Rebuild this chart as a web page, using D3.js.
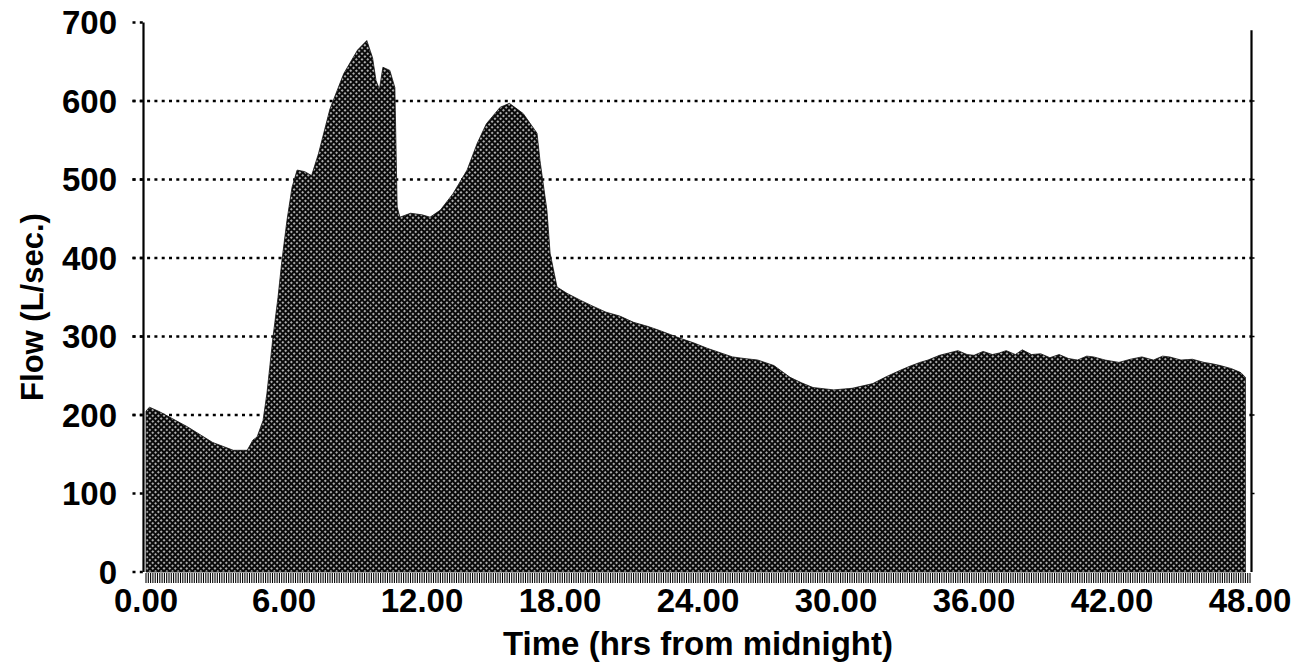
<!DOCTYPE html>
<html>
<head>
<meta charset="utf-8">
<script src="https://cdn.jsdelivr.net/npm/d3@7"></script>
<style>
  html, body { margin: 0; padding: 0; background: #fff; }
  svg { display: block; }
  text { font-family: "Liberation Sans", Arial, sans-serif; font-weight: bold; fill: #000; }
</style>
</head>
<body>
<svg id="chart" width="1302" height="665"></svg>
<script>
// ---- data ----
const hours = [0, 0.15, 0.6, 1.8, 2.9, 3.8, 4.4, 4.65, 4.83, 5.09, 5.26, 5.52, 5.74, 5.91, 6.13, 6.35, 6.57, 6.9, 7.2, 7.5, 8.0, 8.6, 9.2, 9.6, 9.85, 10.0, 10.15, 10.3, 10.6, 10.82, 10.92, 11.04, 11.5, 12.0, 12.35, 12.8, 13.35, 13.96, 14.4, 14.8, 15.4, 15.8, 16.4, 17.0, 17.13, 17.43, 17.57, 17.87, 18.3, 18.9, 19.4, 20.0, 20.6, 21.2, 21.8, 22.3, 23.2, 23.8, 24.4, 25.0, 25.5, 26.0, 26.6, 27.3, 28.0, 28.5, 29.0, 29.9, 30.7, 31.6, 32.2, 32.8, 33.2, 33.65, 34.0, 34.5, 34.9, 35.3, 35.7, 36.0, 36.4, 36.8, 37.1, 37.4, 37.8, 38.1, 38.5, 38.9, 39.3, 39.7, 40.1, 40.5, 40.9, 41.2, 41.7, 42.3, 42.8, 43.3, 43.8, 44.2, 44.5, 45.0, 45.5, 46.0, 46.4, 46.7, 47.2, 47.6, 47.8];
const flow  = [205, 210, 204, 185, 165, 155, 155, 168, 172, 193, 228, 299, 350, 397, 448, 490, 512, 510, 505, 533, 590, 635, 665, 677, 655, 626, 615, 643, 639, 617, 465, 452, 457, 455, 452, 461, 482, 512, 546, 571, 592, 597, 584, 559, 524, 461, 406, 363, 355, 346, 339, 331, 326, 318, 313, 308, 298, 292, 285, 279, 274, 272, 270, 263, 248, 241, 235, 232, 234, 240, 249, 257, 262, 267, 270, 276, 279, 282, 277, 276, 281, 277, 279, 282, 277, 283, 277, 278, 273, 277, 272, 270, 275, 274, 270, 267, 271, 274, 270, 275, 274, 270, 271, 267, 265, 263, 259, 254, 248];

const xTickValues = [0, 6, 12, 18, 24, 30, 36, 42, 48];
const xTickLabels = ["0.00", "6.00", "12.00", "18.00", "24.00", "30.00", "36.00", "42.00", "48.00"];
const yTickValues = [0, 100, 200, 300, 400, 500, 600, 700];
const yTickLabels = ["0", "100", "200", "300", "400", "500", "600", "700"];
const gridValues = [200, 300, 400, 500, 600];
const xLabel = "Time (hrs from midnight)";
const yLabel = "Flow (L/sec.)";

// ---- drawing ----
const svg = d3.select("#chart");
const x = d3.scaleLinear().domain([0, 48]).range([146, 1250]);
const y = d3.scaleLinear().domain([0, 700]).range([572, 22.5]);

// halftone pattern
const defs = svg.append("defs");
const pat = defs.append("pattern")
  .attr("id", "halftone")
  .attr("patternUnits", "userSpaceOnUse")
  .attr("width", 4).attr("height", 4)
  .attr("patternTransform", "rotate(45)");
pat.append("rect").attr("width", 4).attr("height", 4).attr("fill", "#0a0a0a");
pat.append("circle").attr("cx", 2).attr("cy", 2).attr("r", 0.95).attr("fill", "#f4f4f4");

const axisLeftX = x(0) - 2.5;
const axisRightX = x(48) + 1.5;

// gridlines (dotted)
svg.append("g").selectAll("line").data(gridValues).join("line")
  .attr("x1", axisLeftX - 11).attr("x2", axisRightX)
  .attr("y1", d => y(d)).attr("y2", d => y(d))
  .attr("stroke", "#000").attr("stroke-width", 2.4)
  .attr("stroke-dasharray", "3,4.3");

// short left ticks for every y tick
svg.append("g").selectAll("line").data(yTickValues).join("line")
  .attr("x1", axisLeftX - 11).attr("x2", axisLeftX)
  .attr("y1", d => y(d)).attr("y2", d => y(d))
  .attr("stroke", "#000").attr("stroke-width", 2.4)
  .attr("stroke-dasharray", "3,4.3");

// area
const area = d3.area()
  .x((d, i) => x(hours[i]))
  .y0(y(0))
  .y1(d => y(d))
  .curve(d3.curveLinear);
svg.append("path")
  .datum(flow)
  .attr("d", area)
  .attr("fill", "url(#halftone)")
  .attr("stroke", "#111")
  .attr("stroke-width", 0.8);

// axis lines
svg.append("line")
  .attr("x1", axisLeftX).attr("x2", axisLeftX)
  .attr("y1", y(700)).attr("y2", y(0))
  .attr("stroke", "#000").attr("stroke-width", 2.2);
svg.append("line")
  .attr("x1", axisRightX).attr("x2", axisRightX)
  .attr("y1", y(690)).attr("y2", y(0))
  .attr("stroke", "#000").attr("stroke-width", 2.2);
// small ticks on right axis
svg.append("g").selectAll("line").data(yTickValues.slice(1, -1)).join("line")
  .attr("x1", axisRightX).attr("x2", axisRightX + 3)
  .attr("y1", d => y(d)).attr("y2", d => y(d))
  .attr("stroke", "#000").attr("stroke-width", 1.5);

// dense comb of minor ticks along the bottom
const comb = d3.range(0, 48.0001, 0.1);
svg.append("g").selectAll("line").data(comb).join("line")
  .attr("x1", d => x(d)).attr("x2", d => x(d))
  .attr("y1", y(0) + 1).attr("y2", y(0) + 11)
  .attr("stroke", "#000").attr("stroke-width", 1.1);

// y tick labels
svg.append("g").selectAll("text").data(yTickValues).join("text")
  .attr("x", 117)
  .attr("y", d => y(d))
  .attr("dy", "0.36em")
  .attr("text-anchor", "end")
  .attr("font-size", 33)
  .text((d, i) => yTickLabels[i]);

// x tick labels
svg.append("g").selectAll("text").data(xTickValues).join("text")
  .attr("x", d => x(d))
  .attr("y", 612)
  .attr("text-anchor", "middle")
  .attr("font-size", 33)
  .text((d, i) => xTickLabels[i]);

// axis titles
svg.append("text")
  .attr("x", (x(0) + x(48)) / 2)
  .attr("y", 655)
  .attr("text-anchor", "middle")
  .attr("font-size", 33)
  .text(xLabel);

svg.append("text")
  .attr("transform", "translate(43,307) rotate(-90)")
  .attr("text-anchor", "middle")
  .attr("font-size", 31)
  .text(yLabel);
</script>
</body>
</html>
